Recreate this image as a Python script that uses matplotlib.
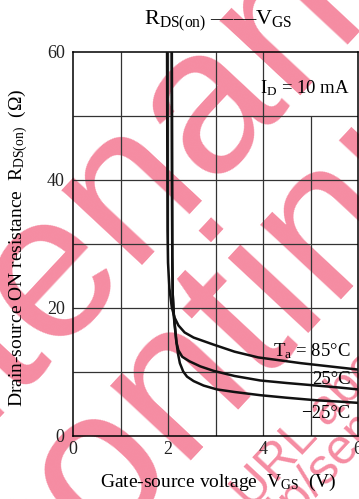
import matplotlib
matplotlib.use("Agg")
import matplotlib.pyplot as plt

plt.rcParams["font.family"] = ["Liberation Serif", "DejaVu Serif"]
plt.rcParams["mathtext.fontset"] = "custom"
plt.rcParams["mathtext.rm"] = "Liberation Serif"
plt.rcParams["mathtext.it"] = "Liberation Serif:italic"

# R_DS(on) vs V_GS at I_D = 10 mA, three ambient temperatures
vgs_85 = [1.98, 1.985, 1.99, 2.00, 2.03, 2.08, 2.14, 2.22, 2.35, 2.54, 2.96,
          3.40, 3.90, 4.40, 4.80, 5.40, 6.00]
rds_85 = [60, 45, 32, 27, 23, 20, 18.4, 17.2, 16.1, 15.3, 14.2,
          13.1, 12.2, 11.7, 11.3, 10.8, 10.3]

vgs_25 = [2.08, 2.085, 2.09, 2.10, 2.12, 2.15, 2.18, 2.22, 2.30, 2.45, 2.68,
          2.96, 3.40, 3.94, 4.50, 5.13, 5.60, 6.00]
rds_25 = [60, 40, 28, 22, 19, 16.8, 14.5, 13.3, 12.3, 11.6, 10.8,
          10.1, 9.3, 8.6, 8.2, 7.8, 7.5, 7.2]

vgs_m25 = [2.08, 2.085, 2.09, 2.10, 2.13, 2.17, 2.21, 2.25, 2.32, 2.40, 2.54,
           2.75, 3.03, 3.40, 3.94, 4.50, 5.13, 5.60, 6.00]
rds_m25 = [60, 40, 28, 22, 18, 15, 12.8, 11.3, 10.0, 9.2, 8.5,
           7.8, 7.2, 6.8, 6.3, 5.9, 5.5, 5.3, 5.1]

x_ticks = [0, 2, 4, 6]
y_ticks = [0, 20, 40, 60]

PINK = "#F58CA2"
W, H = 359, 499


def fx(px):
    return px / W


def fy(py):
    return 1 - py / H


fig = plt.figure(figsize=(3.59, 4.99), dpi=100)
ax = fig.add_axes([fx(73), fy(435.5), 285 / W, 384 / H])
ax.set_facecolor("none")

ax.set_xlim(0, 6)
ax.set_ylim(0, 60)

# grid drawn by hand so the label corner stays clear
for gx in range(1, 6):
    top = 50 if gx == 5 else 60
    ax.vlines(gx, 0, top, color="#333333", lw=0.9, zorder=1.5)
for gy in range(10, 60, 10):
    ax.hlines(gy, 0, 6, color="#333333", lw=0.9, zorder=1.5)

for v, r in [(vgs_85, rds_85), (vgs_25, rds_25), (vgs_m25, rds_m25)]:
    ax.plot(v, r, color="#111111", lw=1.8, zorder=3, solid_capstyle="butt")

ax.set_xticks(x_ticks)
ax.set_yticks(y_ticks)
ax.tick_params(length=0, labelsize=13, pad=4, colors="#222222")
ax.tick_params(axis="y", pad=6)
for s in ax.spines.values():
    s.set_linewidth(1.1)
    s.set_zorder(2.6)

ax.set_xlabel(r"Gate-source voltage  V$_{\mathrm{GS}}$  (V)", fontsize=14)
ax.xaxis.set_label_coords(0.51, -0.095)
ax.set_ylabel(r"Drain-source ON resistance  R$_{\mathrm{DS(on)}}$  ($\Omega$)",
              fontsize=14)
ax.yaxis.set_label_coords(-0.15, 0.49)

ax.text(5.82, 54.3, r"I$_{\mathrm{D}}$ = 10 mA", ha="right", va="center",
        fontsize=13.5, zorder=4)
ax.text(5.84, 13.2, r"T$_{\mathrm{a}}$ = 85°C", ha="right", va="center",
        fontsize=13.5, zorder=4)
ax.text(5.84, 8.8, "25°C", ha="right", va="center", fontsize=13.5, zorder=4)
ax.text(5.84, 3.5, "\u221225°C", ha="right", va="center", fontsize=13.5, zorder=4)

fig.text(fx(218), fy(21),
         r"R$_{\mathrm{DS(on)}}$ ——V$_{\mathrm{GS}}$",
         ha="center", va="center", fontsize=16)

# pink watermark, drawn under the chart lines
wm = dict(color=PINK, rotation=47, rotation_mode="anchor", va="baseline",
          family=["Liberation Sans", "DejaVu Sans"],
          transform=fig.transFigure, clip_on=False, zorder=1.2)
ax.text(fx(128), fy(262), "Maintenance/", fontsize=150, ha="center", **wm)
ax.text(fx(232), fy(398), "Discontinued", fontsize=150, ha="center", **wm)
ax.text(fx(-73), fy(858), "Please visit following URL about latest information.",
        fontsize=36, ha="left", **wm)
ax.text(fx(38), fy(792), "http://panasonic.jp/semicon/", fontsize=36,
        ha="left", **wm)

fig.savefig("out.png", dpi=100, facecolor="white")
